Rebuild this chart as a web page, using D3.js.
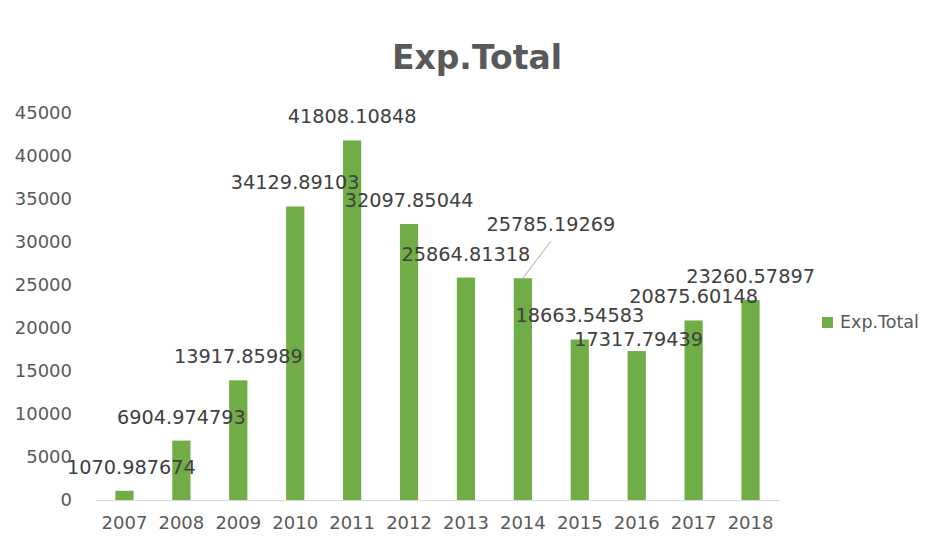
<!DOCTYPE html>
<html>
<head>
<meta charset="utf-8">
<script src="https://cdn.jsdelivr.net/npm/d3@7"></script>
<style>
  html, body { margin: 0; padding: 0; background: #ffffff; }
  svg { display: block; font-family: "DejaVu Sans", sans-serif; }
</style>
</head>
<body>
<svg id="chart" width="940" height="550"></svg>
<script>
// ---- data ----
const categories = ["2007","2008","2009","2010","2011","2012","2013","2014","2015","2016","2017","2018"];
const values = [1070.987674, 6904.974793, 13917.85989, 34129.89103, 41808.10848, 32097.85044,
                25864.81318, 25785.19269, 18663.54583, 17317.79439, 20875.60148, 23260.57897];
const labels = ["1070.987674","6904.974793","13917.85989","34129.89103","41808.10848","32097.85044",
                "25864.81318","25785.19269","18663.54583","17317.79439","20875.60148","23260.57897"];
const yTicks = [0, 5000, 10000, 15000, 20000, 25000, 30000, 35000, 40000, 45000];
const seriesName = "Exp.Total";
const chartTitle = "Exp.Total";

// ---- layout (not data) ----
const W = 940, H = 550;
const plot = { left: 96, right: 779, top: 113, bottom: 500 };
const labelNudge = { "2007": [7, 0], "2014": [28, -30], "2016": [2, 12] }; // manual label moves (px)
const barColor = "#70AD47";

const svg = d3.select("#chart");
svg.append("rect").attr("width", W).attr("height", H).attr("fill", "#fff");

const x = d3.scaleBand().domain(categories).range([plot.left, plot.right]).paddingInner(0.68).paddingOuter(0.34);
const y = d3.scaleLinear().domain([0, 45000]).range([plot.bottom, plot.top]);

// title
svg.append("text")
  .attr("x", 477).attr("y", 69)
  .attr("text-anchor", "middle")
  .attr("font-size", 33).attr("font-weight", "bold")
  .attr("fill", "#595959")
  .text(chartTitle);

// y axis (labels only)
const yAxis = d3.axisLeft(y).tickValues(yTicks).tickSize(0).tickPadding(0).tickFormat(d3.format("d"));
const gy = svg.append("g").attr("transform", `translate(72,0)`).call(yAxis);
gy.select(".domain").remove();
gy.selectAll("text").attr("font-size", 18).attr("fill", "#595959").attr("font-family", "DejaVu Sans, sans-serif");

// x axis
const xAxis = d3.axisBottom(x).tickSize(0).tickPadding(16);
const gx = svg.append("g").attr("transform", `translate(0,${plot.bottom})`).call(xAxis);
gx.select(".domain").attr("stroke", "#D9D9D9").attr("stroke-width", 1.2)
  .attr("d", `M${plot.left},0.5H${plot.right + 1}`);
gx.selectAll("text").attr("font-size", 18).attr("fill", "#595959").attr("font-family", "DejaVu Sans, sans-serif");

// bars
const rows = categories.map((c, i) => ({ cat: c, value: values[i], label: labels[i] }));
svg.append("g").selectAll("rect").data(rows).join("rect")
  .attr("x", d => x(d.cat))
  .attr("width", x.bandwidth())
  .attr("y", d => y(d.value))
  .attr("height", d => y(0) - y(d.value))
  .attr("fill", barColor);

// leader lines for moved labels
const leaderCats = ["2014"];
svg.append("g").selectAll("line").data(rows.filter(d => leaderCats.includes(d.cat))).join("line")
  .attr("x1", d => x(d.cat) + x.bandwidth() / 2)
  .attr("y1", d => y(d.value))
  .attr("x2", d => x(d.cat) + x.bandwidth() / 2 + labelNudge[d.cat][0])
  .attr("y2", d => y(d.value) - 17 + labelNudge[d.cat][1] + 10)
  .attr("stroke", "#A6A6A6").attr("stroke-width", 1);

// data labels
svg.append("g").selectAll("text").data(rows).join("text")
  .attr("x", d => x(d.cat) + x.bandwidth() / 2 + (labelNudge[d.cat] ? labelNudge[d.cat][0] : 0))
  .attr("y", d => y(d.value) - 17 + (labelNudge[d.cat] ? labelNudge[d.cat][1] : 0))
  .attr("text-anchor", "middle")
  .attr("font-size", 19.3)
  .attr("fill", "#404040")
  .text(d => d.label);

// legend
const lg = svg.append("g").attr("transform", "translate(822,317)");
lg.append("rect").attr("width", 11).attr("height", 11).attr("fill", barColor);
lg.append("text").attr("x", 18).attr("y", 11).attr("font-size", 17.5).attr("fill", "#595959").text(seriesName);
</script>
</body>
</html>
